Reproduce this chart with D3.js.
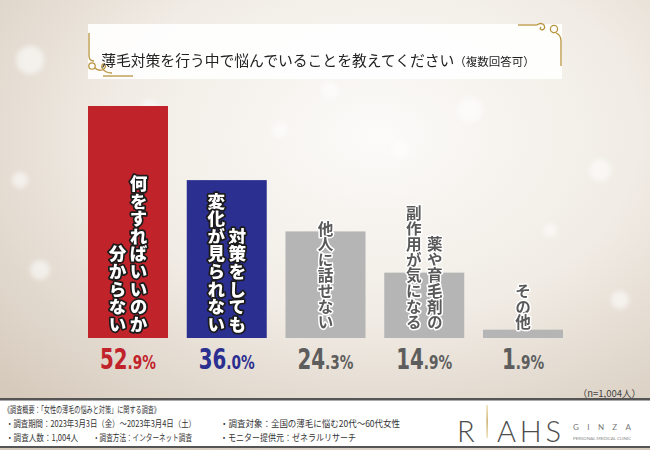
<!DOCTYPE html>
<html>
<head>
<meta charset="utf-8">
<script src="https://cdn.jsdelivr.net/npm/d3@7"></script>
<style>
  body { margin: 0; background: #fff; }
  svg { display: block; }
</style>
</head>
<body>
<script>
// survey answers, one bar each
const categories = ["何をすればいいのか分からない", "対策をしても変化が見られない", "他人に話せない", "薬や育毛剤の副作用が気になる", "その他"];
// label text inside each bar, written top-down, first column on the right
const labelColumns = [
  ["何をすればいいのか", "分からない"],
  ["対策をしても", "変化が見られない"],
  ["他人に話せない"],
  ["薬や育毛剤の", "副作用が気になる"],
  ["その他"]
];
const values = [52.9, 36.0, 24.3, 14.9, 1.9];

const titleText = "薄毛対策を行う中で悩んでいることを教えてください";
const titleNote = "（複数回答可）";
const sampleNote = "（n=1,004人）";

const W = 650, H = 450;
const JP = "'Noto Sans CJK JP', 'Noto Sans', sans-serif";
const NUM = "'Liberation Sans Narrow', 'DejaVu Sans Condensed', 'Roboto', sans-serif";

const svg = d3.select("body").append("svg")
  .attr("width", W)
  .attr("height", H);

const defs = svg.append("defs");
const bg = defs.append("radialGradient").attr("id", "bg")
  .attr("cx", "58%").attr("cy", "30%").attr("r", "80%");
bg.append("stop").attr("offset", "0%").attr("stop-color", "#fcfbf9");
bg.append("stop").attr("offset", "50%").attr("stop-color", "#f1ece5");
bg.append("stop").attr("offset", "100%").attr("stop-color", "#d6cabc");

const gold = defs.append("linearGradient").attr("id", "gold")
  .attr("x1", 0).attr("y1", 0).attr("x2", 0).attr("y2", 1);
gold.append("stop").attr("offset", "0%").attr("stop-color", "#e9d9a6");
gold.append("stop").attr("offset", "50%").attr("stop-color", "#c09a45");
gold.append("stop").attr("offset", "100%").attr("stop-color", "#e9d9a6");

defs.append("filter").attr("id", "blur")
  .append("feGaussianBlur").attr("stdDeviation", 2.5);

// background
svg.append("rect").attr("width", W).attr("height", H).attr("fill", "url(#bg)");

// a few soft bokeh spots (decoration only)
const bokeh = [[30, 60, 14], [150, 110, 10], [210, 300, 12], [400, 150, 9], [470, 110, 13],
  [600, 170, 11], [620, 300, 9], [40, 270, 10], [280, 130, 8], [550, 230, 7], [330, 90, 9], [20, 180, 8]];
svg.append("g").attr("filter", "url(#blur)")
  .selectAll("circle").data(bokeh).enter().append("circle")
  .attr("cx", d => d[0]).attr("cy", d => d[1]).attr("r", d => d[2])
  .attr("fill", "#fff").attr("opacity", 0.55);

// title box
svg.append("rect")
  .attr("x", 88).attr("y", 24).attr("width", 474).attr("height", 55)
  .attr("fill", "#fff").attr("opacity", 0.9);

const orn = svg.append("g").attr("fill", "none").attr("stroke", "#b8943f").attr("stroke-width", 1.3);
orn.append("path").attr("d", "M89,33 V56 Q89,61 94,61");
orn.append("circle").attr("cx", 92).attr("cy", 66).attr("r", 3.2);
orn.append("path").attr("d", "M95,68 Q99,72 104,69 Q107,66 104,64 Q101,64 102,68 Q105,73 112,73");
orn.append("path").attr("d", "M103,76 H133");
orn.append("path").attr("d", "M518,25 H537");
orn.append("path").attr("d", "M537,25 Q541,22 544,25 Q546,29 542,30 Q539,29 541,27");
orn.append("circle").attr("cx", 554).attr("cy", 29).attr("r", 3.6);
orn.append("path").attr("d", "M556,33 Q561,35 561,41 V66");

const title = svg.append("text")
  .attr("x", 318).attr("y", 66)
  .attr("text-anchor", "middle")
  .attr("fill", "#222")
  .style("font-family", JP);
title.append("tspan").style("font-size", "14.8px").text(titleText);
title.append("tspan").style("font-size", "11.5px").text(titleNote);

// scales
const x = d3.scaleBand()
  .domain(categories)
  .range([88, 563])
  .paddingInner(0.19);

const y = d3.scaleLinear()
  .domain([0, d3.max(values)])
  .range([338, 106]);

const barColor = i => i === 0 ? "#c1232b" : i === 1 ? "#2b2f8f" : "#b5b5b5";
const numColor = i => i === 0 ? "#c1232b" : i === 1 ? "#2b2f8f" : "#5d5d5d";

svg.selectAll("rect.bar")
  .data(values)
  .enter()
  .append("rect")
  .attr("class", "bar")
  .attr("x", (d, i) => x(categories[i]))
  .attr("y", d => y(d))
  .attr("width", x.bandwidth())
  .attr("height", d => y(0) - y(d))
  .attr("fill", (d, i) => barColor(i));

// vertical labels, one glyph per text, bottom aligned inside the bars
labelColumns.forEach((cols, i) => {
  const strong = i < 2;
  const fs = strong ? 17.6 : 15.6;
  const bottom = strong ? 333 : 330;
  const n = cols.length;
  const cx = x(categories[i]) + x.bandwidth() / 2;
  cols.forEach((line, j) => {
    const chars = Array.from(line);
    svg.append("g").selectAll("text")
      .data(chars)
      .enter()
      .append("text")
      .attr("x", cx + ((n - 1) / 2 - j) * 21)
      .attr("y", (c, k) => bottom - (chars.length - k) * fs)
      .style("writing-mode", "vertical-rl")
      .style("font-family", JP)
      .style("font-size", fs + "px")
      .style("font-weight", strong ? 900 : 700)
      .style("paint-order", "stroke")
      .attr("fill", strong ? "#fff" : "#595959")
      .attr("stroke", strong ? "#1b1b1b" : "#fff")
      .attr("stroke-width", strong ? 3.5 : 3)
      .attr("stroke-linejoin", "round")
      .text(c => c);
  });
});

// percentage labels, squeezed horizontally to look condensed
const pct = svg.selectAll("text.pct")
  .data(values)
  .enter()
  .append("text")
  .attr("class", "pct")
  .attr("transform", (d, i) => `translate(${x(categories[i]) + x.bandwidth() / 2},369) scale(0.76,1)`)
  .attr("text-anchor", "middle")
  .attr("fill", (d, i) => numColor(i))
  .style("font-family", NUM)
  .style("font-weight", 700);
pct.append("tspan").style("font-size", "29px").text(d => d.toFixed(1).split(".")[0]);
pct.append("tspan").style("font-size", "20px").text(d => "." + d.toFixed(1).split(".")[1] + "%");

svg.append("text")
  .attr("x", 641).attr("y", 397)
  .attr("text-anchor", "end")
  .attr("fill", "#444")
  .style("font-family", JP)
  .style("font-size", "9.5px")
  .text(sampleNote);

// footer
svg.append("rect").attr("x", 0).attr("y", 399).attr("width", W).attr("height", 48).attr("fill", "#fff");
svg.append("rect").attr("x", 0).attr("y", 398).attr("width", W).attr("height", 2.5).attr("fill", "#555");
svg.append("rect").attr("x", 0).attr("y", 446).attr("width", W).attr("height", 2).attr("fill", "#555");

const footLines = [
  { x: 4, y: 413, w: 156, t: "《調査概要：「女性の薄毛の悩みと対策」に関する調査》" },
  { x: 6, y: 427, w: 190, t: "・調査期間：2023年3月3日（金）～2023年3月4日（土）" },
  { x: 220, y: 427, w: 180, t: "・調査対象：全国の薄毛に悩む20代～60代女性" },
  { x: 6, y: 441, w: 72, t: "・調査人数：1,004人" },
  { x: 93, y: 441, w: 99, t: "・調査方法：インターネット調査" },
  { x: 220, y: 441, w: 136, t: "・モニター提供元：ゼネラルリサーチ" }
];
svg.selectAll("text.foot")
  .data(footLines)
  .enter()
  .append("text")
  .attr("class", "foot")
  .attr("x", d => d.x).attr("y", d => d.y)
  .attr("textLength", d => d.w)
  .attr("lengthAdjust", "spacingAndGlyphs")
  .attr("fill", "#333")
  .style("font-family", JP)
  .style("font-size", "9px")
  .text(d => d.t);

// logo
const logo = svg.append("g").attr("fill", "#4d4d4d").style("font-family", "Lato, 'Open Sans', sans-serif").style("font-weight", 300);
logo.append("text").attr("x", 457).attr("y", 442).style("font-size", "29px").text("R");
logo.append("rect").attr("x", 486.5).attr("y", 405).attr("width", 1.2).attr("height", 33).attr("fill", "url(#gold)");
logo.append("text").attr("x", 497).attr("y", 442).attr("textLength", 64).attr("lengthAdjust", "spacing")
  .style("font-size", "29px").text("AHS");
logo.append("text").attr("x", 573).attr("y", 430).attr("textLength", 58).attr("lengthAdjust", "spacing")
  .style("font-size", "8px").style("font-weight", 400).attr("fill", "#777").text("GINZA");
logo.append("text").attr("x", 573).attr("y", 440).attr("textLength", 58).attr("lengthAdjust", "spacingAndGlyphs")
  .style("font-size", "3.5px").style("font-weight", 400).attr("fill", "#888").text("PERSONAL MEDICAL CLINIC");
</script>
</body>
</html>
